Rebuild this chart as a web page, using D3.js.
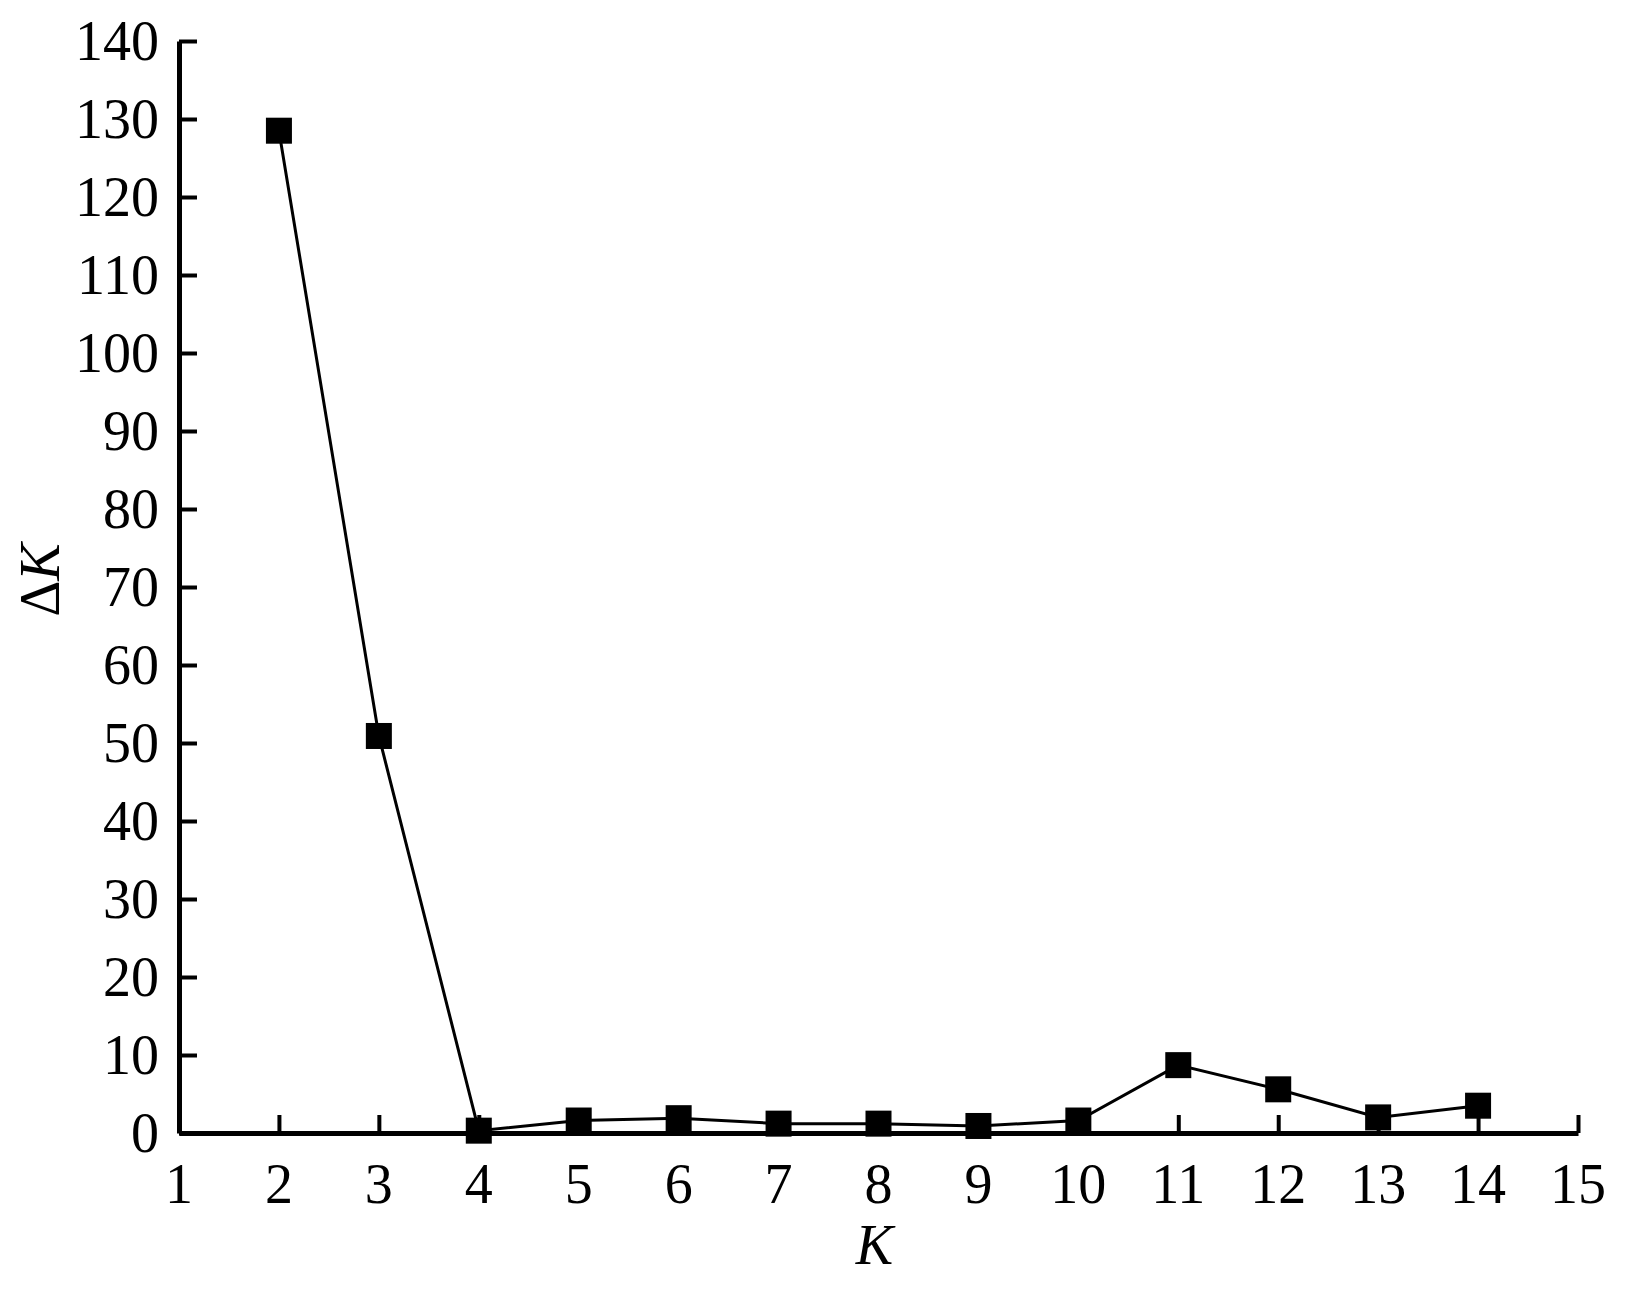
<!DOCTYPE html>
<html>
<head>
<meta charset="utf-8">
<script src="https://cdn.jsdelivr.net/npm/d3@7"></script>
<style>
  body { margin: 0; background: #fff; }
  text { font-family: 'Liberation Serif', 'Times New Roman', serif; fill: #000; }
</style>
</head>
<body>
<div id="viz"></div>
<script>
'use strict';

// K values and Delta K
const ks = [2, 3, 4, 5, 6, 7, 8, 9, 10, 11, 12, 13, 14];
const deltaK = [128.5, 50.9, 0.3, 1.6, 1.9, 1.2, 1.2, 0.9, 1.6, 8.7, 5.6, 2.0, 3.5];
const xTicks = [1, 2, 3, 4, 5, 6, 7, 8, 9, 10, 11, 12, 13, 14, 15];
const yTicks = [0, 10, 20, 30, 40, 50, 60, 70, 80, 90, 100, 110, 120, 130, 140];

const data = ks.map((k, i) => ({k, v: deltaK[i]}));

const W = 1631;
const H = 1299;
const margin = {top: 41, right: 53, bottom: 166, left: 179};
const width = W - margin.left - margin.right;
const height = H - margin.top - margin.bottom;

const svg = d3.select('#viz')
  .append('svg')
    .attr('width', W)
    .attr('height', H)
  .append('g')
    .attr('transform', `translate(${margin.left},${margin.top})`);

const x = d3.scaleLinear()
  .domain([1, 15])
  .range([0, width]);

const y = d3.scaleLinear()
  .domain([0, 140])
  .range([height, 0]);

// ticks point inwards, labels drawn separately
const xAxis = svg.append('g')
  .attr('transform', `translate(0,${height})`)
  .call(d3.axisBottom(x).tickValues(xTicks).tickSize(-18).tickSizeOuter(0).tickFormat(''));

const yAxis = svg.append('g')
  .call(d3.axisLeft(y).tickValues(yTicks).tickSize(-18).tickSizeOuter(0).tickFormat(''));

[xAxis, yAxis].forEach(a => {
  a.select('.domain').attr('stroke', '#000').attr('stroke-width', 5);
  a.selectAll('.tick line').attr('stroke', '#000').attr('stroke-width', 4);
});

svg.append('g')
  .selectAll('text')
  .data(xTicks)
  .join('text')
    .attr('x', d => x(d))
    .attr('y', height + 70)
    .attr('text-anchor', 'middle')
    .attr('font-size', 56)
    .text(d => d);

svg.append('g')
  .selectAll('text')
  .data(yTicks)
  .join('text')
    .attr('x', -20)
    .attr('y', d => y(d))
    .attr('dy', '0.34em')
    .attr('text-anchor', 'end')
    .attr('font-size', 56)
    .text(d => d);

// axis titles
svg.append('text')
  .attr('x', x(8) - 4)
  .attr('y', height + 131)
  .attr('text-anchor', 'middle')
  .attr('font-size', 56)
  .attr('font-style', 'italic')
  .text('K');

const yTitle = svg.append('text')
  .attr('transform', `translate(${59 - margin.left},${580 - margin.top}) rotate(-90)`)
  .attr('text-anchor', 'middle')
  .attr('font-size', 56);
yTitle.append('tspan').text('Δ');
yTitle.append('tspan').attr('font-style', 'italic').text('K');

// the line
svg.append('path')
  .datum(data)
  .attr('fill', 'none')
  .attr('stroke', '#000')
  .attr('stroke-width', 3)
  .attr('d', d3.line()
    .x(d => x(d.k))
    .y(d => y(d.v))
  );

// square markers
const s = 26;
svg.append('g')
  .selectAll('rect')
  .data(data)
  .join('rect')
    .attr('x', d => x(d.k) - s / 2)
    .attr('y', d => y(d.v) - s / 2)
    .attr('width', s)
    .attr('height', s)
    .attr('fill', '#000');
</script>
</body>
</html>
